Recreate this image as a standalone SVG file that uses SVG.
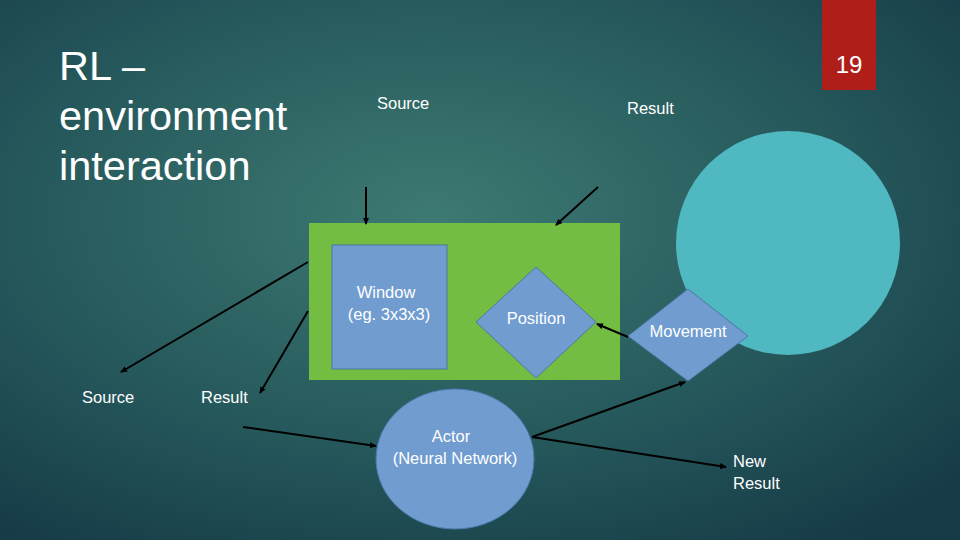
<svg xmlns="http://www.w3.org/2000/svg" width="960" height="540" viewBox="0 0 960 540">
<defs>
<radialGradient id="bg" cx="0.45" cy="0.4" r="0.75">
<stop offset="0" stop-color="#3d7a72"/><stop offset="0.6" stop-color="#24565a"/><stop offset="1" stop-color="#163a46"/>
</radialGradient>
<marker id="ah" markerWidth="7" markerHeight="6" refX="6" refY="3" orient="auto" markerUnits="userSpaceOnUse"><path d="M0,0 L7,3 L0,6 z" fill="#000"/></marker>
<style>
text{font-family:"Liberation Sans",Arial,sans-serif;fill:#fff}
.t{font-size:16.5px}
.sh{fill:#709ccf;stroke:#4a78a8;stroke-width:1}
.c line{stroke:#000;stroke-width:2;marker-end:url(#ah)}
</style>
</defs>
<rect width="960" height="540" fill="url(#bg)"/>
<g id="pagenum"><rect x="822" y="0" width="54" height="90" fill="#b01e1a"/><text x="849" y="73" font-size="24" text-anchor="middle">19</text></g>
<g id="title"><text font-size="41.5" x="59" y="80">RL –</text><text font-size="41.5" x="59" y="130">environment</text><text font-size="41.5" x="59" y="180">interaction</text></g>
<g id="circle"><circle cx="788" cy="243" r="112" fill="#4fb8c0"/></g>
<g id="env"><rect x="309" y="223" width="311" height="157" fill="#74bd43"/></g>
<g id="window"><rect class="sh" x="332" y="245" width="115" height="124"/><text class="t" x="386" y="298" text-anchor="middle">Window</text><text class="t" x="389" y="320" text-anchor="middle">(eg. 3x3x3)</text></g>
<g id="position"><path class="sh" d="M536,267 L596,322 L536,378 L476,322 z"/><text class="t" x="536" y="324" text-anchor="middle">Position</text></g>
<g id="movement"><path class="sh" d="M688,289 L748,336 L688,381 L628,336 z"/><text class="t" x="688" y="337" text-anchor="middle">Movement</text></g>
<g id="actor"><ellipse class="sh" cx="455" cy="459" rx="79" ry="70"/><text class="t" x="451" y="442" text-anchor="middle">Actor</text><text class="t" x="455" y="464" text-anchor="middle">(Neural Network)</text></g>
<g id="labels">
<text class="t" x="377" y="109">Source</text><text class="t" x="627" y="114">Result</text>
<text class="t" x="82" y="403">Source</text><text class="t" x="201" y="403">Result</text>
<text class="t" x="733" y="467">New</text><text class="t" x="733" y="489">Result</text>
</g>
<g class="c" id="connectors">
<line x1="366" y1="187" x2="366" y2="224"/>
<line x1="598" y1="187" x2="556" y2="225"/>
<line x1="308" y1="262" x2="121" y2="372"/>
<line x1="308" y1="311" x2="260" y2="393"/>
<line x1="243" y1="427" x2="376" y2="446"/>
<line x1="628" y1="337" x2="597" y2="324"/>
<line x1="532" y1="437" x2="685" y2="382"/>
<line x1="532" y1="437" x2="726" y2="467"/>
</g>
</svg>
